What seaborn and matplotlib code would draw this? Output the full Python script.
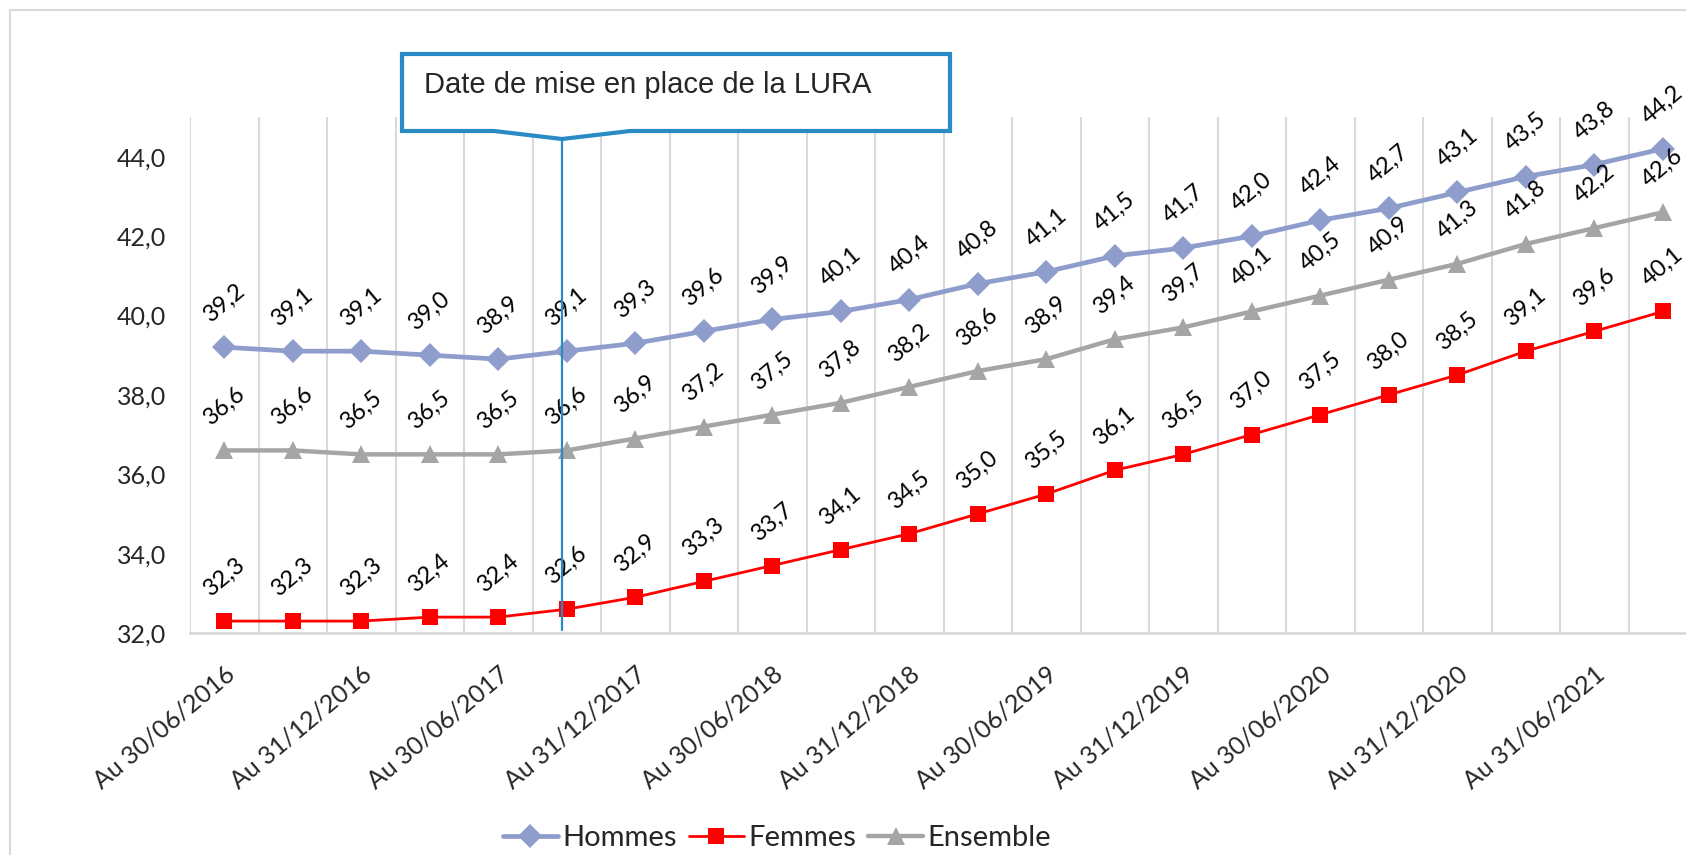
import numpy as np
import pandas as pd
import matplotlib
matplotlib.use("Agg")
import matplotlib.pyplot as plt
from matplotlib.patches import Polygon
from matplotlib.lines import Line2D
import seaborn as sns

# quarterly dates (labels shown every other quarter)
tick_labels = ["Au 30/06/2016", "Au 31/12/2016", "Au 30/06/2017", "Au 31/12/2017",
               "Au 30/06/2018", "Au 31/12/2018", "Au 30/06/2019", "Au 31/12/2019",
               "Au 30/06/2020", "Au 31/12/2020", "Au 31/06/2021"]

hommes = [39.2, 39.1, 39.1, 39.0, 38.9, 39.1, 39.3, 39.6, 39.9, 40.1, 40.4,
          40.8, 41.1, 41.5, 41.7, 42.0, 42.4, 42.7, 43.1, 43.5, 43.8, 44.2]
femmes = [32.3, 32.3, 32.3, 32.4, 32.4, 32.6, 32.9, 33.3, 33.7, 34.1, 34.5,
          35.0, 35.5, 36.1, 36.5, 37.0, 37.5, 38.0, 38.5, 39.1, 39.6, 40.1]
ensemble = [36.6, 36.6, 36.5, 36.5, 36.5, 36.6, 36.9, 37.2, 37.5, 37.8, 38.2,
            38.6, 38.9, 39.4, 39.7, 40.1, 40.5, 40.9, 41.3, 41.8, 42.2, 42.6]

lura_pos = 4.93  # date de mise en place de la LURA (between Q5 and Q6)

df = pd.DataFrame({"idx": np.arange(len(hommes)), "Hommes": hommes,
                   "Femmes": femmes, "Ensemble": ensemble})

sns.set_style("white")
plt.rcParams["font.family"] = ["Lato", "DejaVu Sans"]

W, H = 1686, 855
fig = plt.figure(figsize=(W / 100, H / 100), dpi=100)
ax = fig.add_axes([190 / W, (H - 633) / H, (1697 - 190) / W, (633 - 117) / H])

styles = {
    "Hommes": dict(color="#8E9DCB", marker="D", lw=3.4, ms=12),
    "Ensemble": dict(color="#A5A5A5", marker="^", lw=3.2, ms=13),
    "Femmes": dict(color="#FF0000", marker="s", lw=2.0, ms=12),
}
for name in ["Hommes", "Ensemble", "Femmes"]:
    st = styles[name]
    sns.lineplot(data=df, x="idx", y=name, ax=ax, color=st["color"], lw=st["lw"],
                 marker=st["marker"], markersize=st["ms"], markeredgewidth=0,
                 legend=False)
    for i, v in enumerate(df[name]):
        ax.annotate(f"{v:.1f}".replace(".", ","), (i, v), xytext=(0, 32),
                    textcoords="offset points", rotation=40, ha="center",
                    va="center", fontsize=17, color="black")

ax.set_xlim(-0.5, len(hommes) - 0.5)
ax.set_ylim(32, 45)
ax.set_yticks(np.arange(32, 45, 2))
ax.set_yticklabels([f"{t:.1f}".replace(".", ",") for t in np.arange(32, 45, 2)],
                   fontsize=18)
ax.set_xticks(np.arange(0, len(hommes), 2))
ax.set_xticklabels(tick_labels, rotation=40, ha="right", rotation_mode="anchor",
                   fontsize=18)
ax.set_xticks(np.arange(-0.5, len(hommes), 1), minor=True)
ax.tick_params(axis="both", which="both", length=0)
ax.tick_params(axis="x", pad=21)
ax.tick_params(axis="y", pad=17)
ax.grid(False)
ax.grid(which="minor", axis="x", color="#D9D9D9", lw=1.5)
ax.set_xlabel("")
ax.set_ylabel("")
for s in ["top", "right", "left"]:
    ax.spines[s].set_visible(False)
ax.spines["bottom"].set_color("#D9D9D9")
ax.spines["bottom"].set_linewidth(2)

# callout
def fp(x, y):
    return (x / W, 1 - y / H)

x_line = ax.transData.transform((lura_pos, 32))[0]
callout = Polygon([fp(402, 54), fp(950, 54), fp(950, 131), fp(630, 131),
                   fp(x_line, 139), fp(494, 131), fp(402, 131)],
                  closed=True, transform=fig.transFigure, facecolor="white",
                  edgecolor="#2A8AC4", lw=3, zorder=5)
fig.patches.append(callout)
fig.add_artist(Line2D([x_line / W, x_line / W], [1 - 139 / H, 1 - 630 / H],
                      transform=fig.transFigure, color="#2A8AC4", lw=1.6, zorder=6))
fig.text(424 / W, 1 - 85 / H, "Date de mise en place de la LURA",
         family="Liberation Sans", fontsize=21, va="center", ha="left", zorder=7)

# chart border (cropped on right/bottom)
fig.add_artist(Line2D([10 / W, 10 / W], [0, 1 - 10 / H], transform=fig.transFigure,
                      color="#D9D9D9", lw=1.5))
fig.add_artist(Line2D([10 / W, 1], [1 - 10 / H, 1 - 10 / H], transform=fig.transFigure,
                      color="#D9D9D9", lw=1.5))

handles = [Line2D([], [], color=styles[n]["color"], lw=styles[n]["lw"],
                  marker=styles[n]["marker"], ms=styles[n]["ms"], mew=0)
           for n in ["Hommes", "Femmes", "Ensemble"]]
fig.legend(handles, ["Hommes", "Femmes", "Ensemble"], loc="center",
           bbox_to_anchor=(777 / W, 1 - 838 / H), ncol=3, frameon=False,
           fontsize=21, handlelength=1.9, handletextpad=0.15, columnspacing=0.4)

fig.savefig("out.png", dpi=100)
